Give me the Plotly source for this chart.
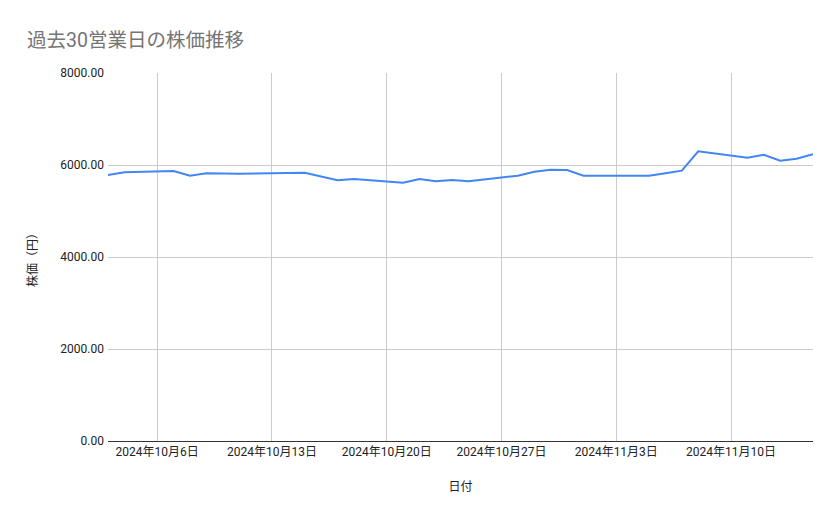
import plotly.graph_objects as go

# 過去30営業日（土日・祝日を除く）
dates = [
    "2024-10-03", "2024-10-04", "2024-10-07", "2024-10-08", "2024-10-09",
    "2024-10-10", "2024-10-11", "2024-10-15", "2024-10-16", "2024-10-17",
    "2024-10-18", "2024-10-21", "2024-10-22", "2024-10-23", "2024-10-24",
    "2024-10-25", "2024-10-28", "2024-10-29", "2024-10-30", "2024-10-31",
    "2024-11-01", "2024-11-05", "2024-11-06", "2024-11-07", "2024-11-08",
    "2024-11-11", "2024-11-12", "2024-11-13", "2024-11-14", "2024-11-15",
]
prices = [
    5783, 5841, 5870, 5768, 5819,
    5815, 5810, 5833, 5750, 5667,
    5696, 5615, 5696, 5645, 5674,
    5645, 5768, 5855, 5898, 5891,
    5768, 5768, 5820, 5877, 6298,
    6159, 6224, 6093, 6137, 6233,
]

tick_dates = ["2024-10-06", "2024-10-13", "2024-10-20", "2024-10-27", "2024-11-03", "2024-11-10"]
tick_labels = ["2024年10月6日", "2024年10月13日", "2024年10月20日",
               "2024年10月27日", "2024年11月3日", "2024年11月10日"]

font_family = "Roboto, 'Noto Sans CJK JP', sans-serif"

fig = go.Figure()
fig.add_trace(go.Scatter(
    x=dates, y=prices, mode="lines",
    line=dict(color="#4285F4", width=2),
    hoverinfo="x+y",
))

# the page puts an 8px margin around the plot, so the figure is a bit smaller
fig.update_layout(
    width=831, height=511,
    margin=dict(l=100, r=26, t=65, b=78),
    paper_bgcolor="white", plot_bgcolor="white",
    font=dict(family=font_family, size=12, color="#222222"),
    showlegend=False,
    title=dict(text="過去30営業日の株価推移", x=0.023, xanchor="left",
               y=0.937, yanchor="middle",
               font=dict(size=19.5, color="#757575", family=font_family)),
    xaxis=dict(
        type="date",
        range=["2024-10-03", "2024-11-15"],
        tickvals=tick_dates, ticktext=tick_labels,
        showgrid=True, gridcolor="#cccccc", gridwidth=1,
        zeroline=False,
        showline=True, linecolor="#333333", linewidth=1,
        ticks="", tickfont=dict(size=12, color="#222222"),
        title=dict(text="日付", font=dict(size=12, color="#222222"), standoff=24),
    ),
    yaxis=dict(
        range=[0, 8000],
        tickvals=[0, 2000, 4000, 6000, 8000],
        tickformat=".2f",
        showgrid=True, gridcolor="#cccccc", gridwidth=1,
        zeroline=False, showline=False,
        ticks="", ticklen=0, ticklabelstandoff=3,
        tickfont=dict(size=12, color="#222222"),
        title=dict(text="株価（円）", font=dict(size=12, color="#222222"), standoff=20),
    ),
)

fig.write_html("out.html")
